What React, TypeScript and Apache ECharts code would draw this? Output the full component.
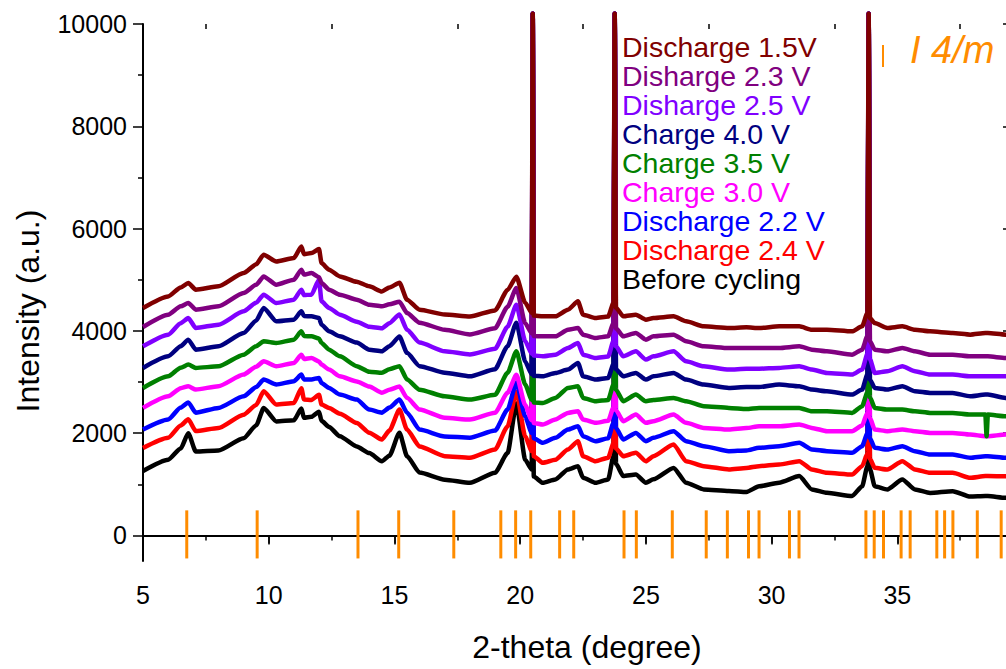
import React, { useEffect, useRef } from "react";
import * as echarts from "echarts";

// 2-theta grid (degree)
const xs = [5, 6, 6.5, 6.8, 7.1, 8, 9, 9.5, 9.8, 10.3, 11, 11.3, 11.4, 11.7, 12.0, 12.1, 12.4, 12.83, 13.5, 14, 14.5, 14.8, 15.2, 15.5, 16, 17, 18, 19, 19.5, 19.85, 20.2, 20.46, 20.5, 20.54, 20.9, 21.4, 21.9, 22.3, 22.5, 23.0, 23.5, 23.71, 23.76, 23.81, 24.1, 24.6, 25.0, 25.3, 26.1, 26.6, 27.3, 28.3, 29.0, 29.5, 30.3, 31.1, 31.6, 32.2, 33.2, 33.6, 33.81, 33.86, 33.91, 34.1, 34.6, 35.2, 35.7, 36.3, 37.2, 37.9, 38.5, 38.55, 38.6, 39.3, 39.6];

const beforeCycling = [1260,1480,1700,2000,1640,1660,1900,2150,2490,2230, 2250,2480,2300,2320,2420,2240,2120,1940,1740,1610, 1450,1560,2010,1550,1230,1090,1030,1225,1610,2580, 1480,1290,10200,1150,1030,1094,1290,1354,1130,1030, 1094,1550,10200,1400,1160,1190,1030,1100,1320,1030, 900,870,850,960,1030,1160,900,833,770,960, 1354,10200,1300,963,900,1094,900,830,866,760, 770,770,770,736,730];
const discharge24 = [1710,1910,2150,2270,2040,2100,2360,2550,2820,2560, 2590,2880,2660,2650,2750,2560,2490,2380,2200,2010, 1875,2050,2460,2070,1740,1550,1520,1680,2130,2810, 1935,1650,10200,1550,1420,1480,1680,1840,1550,1450, 1520,1800,10200,1700,1550,1615,1450,1550,1780,1450, 1354,1289,1320,1354,1387,1452,1289,1224,1191,1354, 1600,10200,1500,1322,1289,1452,1289,1224,1224,1127, 1160,1160,1160,1159,1150];
const discharge22 = [2070,2266,2500,2600,2400,2494,2720,2900,3047,2950, 3014,3145,3050,3050,3080,2980,2884,2754,2656,2460, 2400,2500,2656,2400,2070,1935,1910,2050,2460,2990, 2325,2000,10200,1900,1810,1908,2070,2135,1940,1842, 1900,2200,10200,2100,1875,2005,1842,1908,2038,1842, 1745,1647,1660,1713,1745,1810,1680,1647,1615,1745, 2000,10200,1900,1713,1680,1745,1647,1582,1582,1517, 1549,1549,1549,1517,1510];
const charge30 = [2494,2721,2880,2917,2852,2917,3145,3300,3405,3307, 3372,3535,3450,3470,3400,3340,3242,3112,3010,2910, 2790,2850,2910,2690,2460,2300,2266,2400,2790,3140, 2550,2250,10200,2200,2168,2266,2396,2428,2266,2201, 2240,2500,10200,2450,2233,2363,2201,2233,2363,2201, 2103,2070,2100,2135,2135,2168,2103,2038,2038,2150, 2400,10200,2300,2070,2038,2070,2038,2005,2005,1973, 1940,1940,1940,1973,1960];
const charge35 = [2884,3112,3280,3340,3275,3307,3535,3700,3796,3763, 3828,3990,3900,3893,3850,3763,3633,3502,3310,3200, 3180,3250,3310,3050,2850,2720,2656,2750,3180,3600, 2950,2650,10200,2600,2591,2689,2884,2917,2689,2624, 2650,2950,10200,2850,2624,2754,2624,2650,2689,2624, 2526,2494,2470,2494,2494,2494,2428,2428,2396,2526, 2800,10200,2700,2494,2461,2461,2428,2396,2396,2363, 2363,1940,2363,2330,2320];
const charge40 = [3275,3502,3700,3828,3633,3698,3958,4200,4447,4186, 4219,4381,4290,4284,4250,4121,3990,3893,3770,3630, 3600,3700,3890,3570,3310,3180,3110,3250,3700,4160, 3400,3150,10200,3120,3112,3177,3242,3372,3112,3047, 3080,3350,10200,3250,3112,3177,3047,3112,3177,3047, 2950,2884,2900,2900,2950,2917,2852,2819,2754,2852, 3150,10200,3050,2884,2852,2917,2819,2786,2786,2721, 2754,2754,2754,2689,2680];
const disharge25 = [3698,3926,4150,4251,4056,4121,4381,4550,4707,4544, 4609,4805,4700,4707,5000,4577,4447,4316,4180,4080, 4050,4150,4320,4020,3770,3600,3540,3650,4080,4510, 3800,3550,10200,3520,3502,3535,3665,3763,3535,3470, 3500,3800,10200,3700,3502,3600,3438,3502,3600,3405, 3307,3242,3260,3260,3275,3307,3242,3177,3145,3242, 3550,10200,3450,3177,3210,3307,3210,3145,3145,3112, 3112,3112,3112,3112,3100];
const disharge23 = [4075,4316,4480,4544,4414,4479,4740,4900,5065,4902, 5000,5195,5100,5130,5050,4935,4805,4707,4610,4510, 4480,4520,4570,4350,4160,4020,3930,4050,4470,4840, 4150,3950,10200,3900,3893,3893,4023,4056,3926,3861, 3893,4150,10200,4050,3893,3958,3828,3893,3926,3796, 3698,3665,3665,3665,3665,3698,3633,3600,3535,3633, 3900,10200,3800,3633,3600,3665,3600,3535,3535,3502, 3502,3502,3502,3470,3460];
const discharge15 = [4447,4674,4850,4935,4805,4870,5130,5300,5490,5357, 5423,5650,5500,5520,5600,5326,5195,5065,4960,4870, 4770,4850,4940,4610,4414,4320,4280,4400,4800,5060, 4550,4350,10200,4300,4284,4284,4414,4577,4316,4251, 4280,4550,10200,4450,4284,4316,4219,4251,4284,4186, 4088,4056,4070,4056,4088,4088,4023,4023,3990,4088, 4350,10200,4250,4153,4056,4088,4023,3990,3958,3926, 3958,3958,3958,3926,3910];

// I4/m reference reflections (2-theta)
const refPeaks = [6.74, 9.54, 13.55, 15.17, 17.36, 19.23, 19.82, 20.42, 21.57, 22.13, 24.13, 24.62, 26.05, 27.4, 28.24, 29.08, 29.5, 30.71, 31.09, 33.75, 34.08, 34.45, 35.15, 35.51, 36.57, 36.88, 37.21, 38.18, 39.13];
const refBarRange = [-450, 490];

const xMajorTicks = [5, 10, 15, 20, 25, 30, 35];
const xMinorTicks = [7.5, 12.5, 17.5, 22.5, 27.5, 32.5, 37.5];
const yMajorTicks = [0, 2000, 4000, 6000, 8000, 10000];
const yMinorTicks = [1000, 3000, 5000, 7000, 9000];

const seriesDefs = [
  { name: "Before cycling", color: "#000000", values: beforeCycling },
  { name: "Discharge 2.4 V", color: "#FF0000", values: discharge24 },
  { name: "Discharge 2.2 V", color: "#0000FF", values: discharge22 },
  { name: "Charge 3.0 V", color: "#FF00FF", values: charge30 },
  { name: "Charge 3.5 V", color: "#008000", values: charge35 },
  { name: "Charge 4.0 V", color: "#000080", values: charge40 },
  { name: "Disharge 2.5 V", color: "#8000FF", values: disharge25 },
  { name: "Disharge 2.3 V", color: "#800080", values: disharge23 },
  { name: "Discharge 1.5V", color: "#800000", values: discharge15 },
];

const FONT = '"Liberation Sans", Arial, sans-serif';
const ORANGE = "#FF8C00";

export default function App() {
  const ref = useRef<HTMLDivElement>(null);
  useEffect(() => {
    if (!ref.current) return;
    const chart = echarts.init(ref.current, null, { renderer: "svg" });
    const n = xs.length;
    const lineSeries = seriesDefs.map((s) => ({
      type: "line",
      name: s.name,
      xAxisIndex: 0,
      yAxisIndex: 0,
      data: xs.slice(0, Math.min(n, s.values.length)).map((x, i) => [x, s.values[i]]),
      showSymbol: false,
      symbol: "none",
      clip: false,
      smooth: 0.2,
      smoothMonotone: "x",
      lineStyle: { color: s.color, width: 4.5 },
      itemStyle: { color: s.color },
    }));
    const legendItems = seriesDefs.slice().reverse();
    const rich: any = {};
    legendItems.forEach((it, i) => {
      rich["l" + i] = { fill: it.color, color: it.color, fontSize: 28.5, fontFamily: FONT, lineHeight: 29 };
    });
    const legendText = legendItems.map((it, i) => `{l${i}|${it.name}}`).join("\n");

    const axisLine = { show: true, lineStyle: { color: "#000", width: 2 } };
    const option: any = {
      animation: false,
      grid: { left: 143, top: 24, width: 870, height: 537, containLabel: false },
      xAxis: [
        {
          type: "value", min: 5, max: 39.6, position: "bottom",
          axisLine, splitLine: { show: false },
          axisTick: { show: true, inside: false, length: 8, customValues: xMajorTicks, lineStyle: { color: "#000", width: 1.5 } },
          axisLabel: { show: true, customValues: xMajorTicks, fontSize: 25, color: "#000", fontFamily: FONT, margin: 21, formatter: (v: number) => String(v) },
        },
        {
          type: "value", min: 5, max: 39.6, position: "bottom",
          axisLine: { show: false }, splitLine: { show: false },
          axisTick: { show: true, inside: false, length: 5, customValues: xMinorTicks, lineStyle: { color: "#000", width: 1.5 } },
          axisLabel: { show: false },
        },
        {
          type: "value", min: 5, max: 39.6, position: "top",
          axisLine, splitLine: { show: false },
          axisTick: { show: true, inside: true, length: 9, customValues: xMajorTicks, lineStyle: { color: "#000", width: 1.5 } },
          axisLabel: { show: false },
        },
        {
          type: "value", min: 5, max: 39.6, position: "top",
          axisLine: { show: false }, splitLine: { show: false },
          axisTick: { show: true, inside: true, length: 5, customValues: xMinorTicks, lineStyle: { color: "#000", width: 1.5 } },
          axisLabel: { show: false },
        },
      ],
      yAxis: [
        {
          type: "value", min: -500, max: 10000, position: "left",
          axisLine, splitLine: { show: false },
          axisTick: { show: true, inside: false, length: 10, customValues: yMajorTicks, lineStyle: { color: "#000", width: 1.5 } },
          axisLabel: { show: true, customValues: yMajorTicks, fontSize: 25, color: "#000", fontFamily: FONT, margin: 16, formatter: (v: number) => String(v) },
        },
        {
          type: "value", min: -500, max: 10000, position: "left",
          axisLine: { show: false }, splitLine: { show: false },
          axisTick: { show: true, inside: false, length: 5, customValues: yMinorTicks, lineStyle: { color: "#000", width: 1.5 } },
          axisLabel: { show: false },
        },
        {
          type: "value", min: -500, max: 10000, position: "right",
          axisLine, splitLine: { show: false },
          axisTick: { show: true, inside: true, length: 10, customValues: yMajorTicks, lineStyle: { color: "#000", width: 1.5 } },
          axisLabel: { show: false },
        },
      ],
      series: [
        ...lineSeries,
        {
          type: "custom",
          xAxisIndex: 0,
          yAxisIndex: 0,
          clip: false,
          data: refPeaks.map((p) => [p, 0]),
          renderItem: (params: any, api: any) => {
            const p1 = api.coord([api.value(0), refBarRange[0]]);
            const p2 = api.coord([api.value(0), refBarRange[1]]);
            return {
              type: "line",
              shape: { x1: p1[0], y1: p1[1], x2: p2[0], y2: p2[1] },
              style: { stroke: ORANGE, lineWidth: 3 },
            };
          },
        },
      ],
      graphic: [
        {
          type: "text",
          x: 622,
          y: 32.5,
          style: { text: legendText, rich, font: `28.5px ${FONT}`, textAlign: "left", textVerticalAlign: "top" },
        },
        { type: "line", shape: { x1: 883, y1: 45, x2: 883, y2: 67 }, style: { stroke: ORANGE, lineWidth: 2 } },
        {
          type: "text", x: 910, y: 50,
          style: { text: "I 4/m", fill: ORANGE, font: `italic 38px ${FONT}`, textAlign: "left", textVerticalAlign: "middle" },
        },
        {
          type: "text", x: 28, y: 311, rotation: Math.PI / 2,
          style: { text: "Intensity (a.u.)", fill: "#000", font: `32px ${FONT}`, textAlign: "center", textVerticalAlign: "middle" },
        },
        {
          type: "text", x: 587, y: 647,
          style: { text: "2-theta (degree)", fill: "#000", font: `32px ${FONT}`, textAlign: "center", textVerticalAlign: "middle" },
        },
      ],
    };
    chart.setOption(option);
    return () => chart.dispose();
  }, []);

  return (
    <div style={{ position: "fixed", left: 0, top: 0, width: 1006, height: 669, overflow: "hidden", background: "#fff" }}>
      <div ref={ref} style={{ width: 1040, height: 669 }} />
    </div>
  );
}
